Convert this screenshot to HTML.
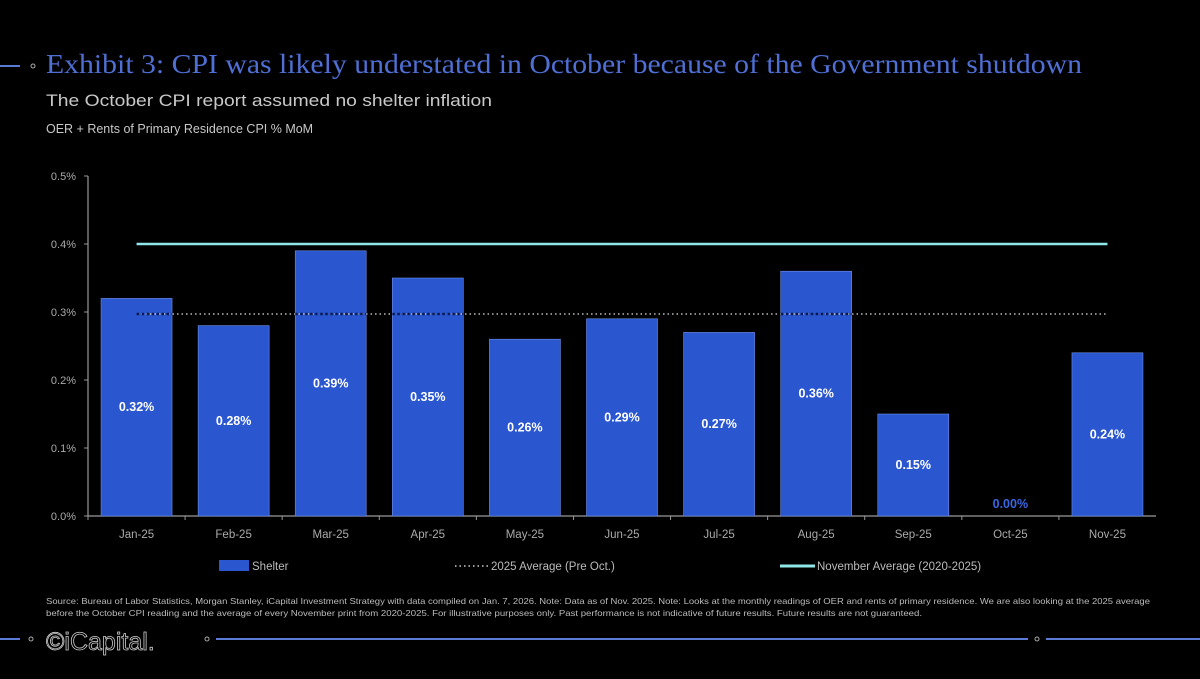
<!DOCTYPE html>
<html><head><meta charset="utf-8">
<style>
body{margin:0;background:#000;width:1200px;height:674px;overflow:hidden;font-family:"Liberation Sans",sans-serif;}
</style></head>
<body>
<svg width="1200" height="674" viewBox="0 0 1200 674" font-family="Liberation Sans, sans-serif">
<g>
<line x1="0" y1="66" x2="20" y2="66" stroke="#5b7ad6" stroke-width="2"/>
<circle cx="33" cy="66" r="2" fill="none" stroke="#aaa"/>
<text x="46" y="73" style="font-family:'Liberation Serif',serif" font-size="27" fill="#4f6fd4" textLength="1036" lengthAdjust="spacingAndGlyphs">Exhibit 3: CPI was likely understated in October because of the Government shutdown</text>
<text x="46" y="106" font-size="17" fill="#c8c8c8" textLength="446" lengthAdjust="spacingAndGlyphs">The October CPI report assumed no shelter inflation</text>
<text x="46" y="133" font-size="12.5" fill="#c8c8c8">OER + Rents of Primary Residence CPI % MoM</text>
</g>
<g id="plot"></g>
<g>
<rect x="219" y="560" width="30" height="11" fill="#2a56d0"/>
<text x="252" y="570" font-size="11.5" fill="#bbb">Shelter</text>
<line x1="455" y1="566" x2="490" y2="566" stroke="#ccc" stroke-width="1.5" stroke-dasharray="1.5 3"/>
<text x="491" y="570" font-size="11.5" fill="#bbb">2025 Average (Pre Oct.)</text>
<line x1="780" y1="566" x2="815" y2="566" stroke="#8ee6e6" stroke-width="3"/>
<text x="817" y="570" font-size="11.5" fill="#bbb">November Average (2020-2025)</text>
</g>
<g font-size="8.2" fill="#bbb">
<text x="46" y="604" textLength="1104" lengthAdjust="spacingAndGlyphs">Source: Bureau of Labor Statistics, Morgan Stanley, iCapital Investment Strategy with data compiled on Jan. 7, 2026. Note: Data as of Nov. 2025. Note: Looks at the monthly readings of OER and rents of primary residence. We are also looking at the 2025 average</text>
<text x="46" y="616" textLength="876" lengthAdjust="spacingAndGlyphs">before the October CPI reading and the average of every November print from 2020-2025. For illustrative purposes only. Past performance is not indicative of future results. Future results are not guaranteed.</text>
</g>
<g>
<line x1="0" y1="639" x2="20" y2="639" stroke="#5b7ad6" stroke-width="2"/>
<circle cx="31" cy="639" r="2" fill="none" stroke="#aaa"/>
<text x="46" y="650" font-size="25" fill="none" stroke="#ccc" stroke-width="0.8">©iCapital.</text>
<circle cx="207" cy="639" r="2" fill="none" stroke="#aaa"/>
<line x1="216" y1="639" x2="1028" y2="639" stroke="#5b7ad6" stroke-width="2"/>
<circle cx="1037" cy="639" r="2" fill="none" stroke="#aaa"/>
<line x1="1046" y1="639" x2="1200" y2="639" stroke="#5b7ad6" stroke-width="2"/>
</g>
</svg>
<script>
const categories=["Jan-25","Feb-25","Mar-25","Apr-25","May-25","Jun-25","Jul-25","Aug-25","Sep-25","Oct-25","Nov-25"];
const shelterValues=[0.32,0.28,0.39,0.35,0.26,0.29,0.27,0.36,0.15,0.00,0.24];
const avg2025=0.297;
const novAvg=0.40;
const yTicks=[0,0.1,0.2,0.3,0.4,0.5];
const yTickLabels=["0.0%","0.1%","0.2%","0.3%","0.4%","0.5%"];
const NS="http://www.w3.org/2000/svg";
const X0=88,X1=1156,Y0=516,Y1=176;
const band=(X1-X0)/categories.length;
const x=i=>X0+band*(i+0.5);
const y=v=>Y0-(v/0.5)*(Y0-Y1);
const plot=document.getElementById('plot');
function mk(tag,attrs,parent){const e=document.createElementNS(NS,tag);for(const k in attrs)e.setAttribute(k,attrs[k]);(parent||plot).appendChild(e);return e;}
let ax=mk('line',{x1:X0,y1:Y1,x2:X0,y2:Y0,stroke:'#999','stroke-width':1.2});


let bx=mk('line',{x1:X0,y1:Y0,x2:X1,y2:Y0,stroke:'#999','stroke-width':1.2});


yTicks.forEach((t,i)=>{
  mk('line',{x1:X0-4,y1:y(t),x2:X0,y2:y(t),stroke:'#999'});
  const tx=mk('text',{x:X0-12,y:y(t)+4,'text-anchor':'end','font-size':11,fill:'#aaa'});
  tx.textContent=yTickLabels[i];
  
  
});
const bw=71;
categories.forEach((c,i)=>{
  mk('line',{x1:X0+band*i,y1:Y0,x2:X0+band*i,y2:Y0+4,stroke:'#999'});
  const v=shelterValues[i];
  const r=mk('rect',{x:x(i)-bw/2,y:y(v),width:bw,height:Y0-y(v),fill:'#2a56d0',stroke:'#6f8fe6','stroke-width':0.6});
  
  
  const lt=mk('text',{x:x(i),y:v===0?y(0)-8:(y(v)+Y0)/2+4,'text-anchor':'middle','font-size':12.5,'font-weight':'bold',fill:v===0?'#3a66e0':'#fff'});
  lt.textContent=v.toFixed(2)+'%';
  
  
  const xt=mk('text',{x:x(i),y:Y0+22,'text-anchor':'middle','font-size':11.5,fill:'#aaa'});
  xt.textContent=c;
  
  
});
const la=mk('line',{x1:x(0),y1:y(avg2025),x2:x(categories.length-1),y2:y(avg2025),stroke:'#bbb','stroke-width':1.5,'stroke-dasharray':'1.5 3'});


categories.forEach((c,i)=>{
  if(shelterValues[i]>avg2025){
    const x1=Math.max(x(0),x(i)-bw/2),x2=Math.min(x(categories.length-1),x(i)+bw/2);
    mk('line',{x1:x1,y1:y(avg2025),x2:x2,y2:y(avg2025),stroke:'#0a1a50','stroke-width':2.5,'stroke-dasharray':'2.5 2.5'});
  }
});
const ln=mk('line',{x1:x(0),y1:y(novAvg),x2:x(categories.length-1),y2:y(novAvg),stroke:'#8ee6e6','stroke-width':2.5});


</script>
</body></html>
